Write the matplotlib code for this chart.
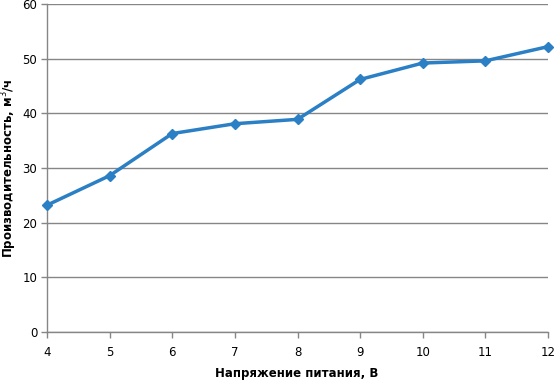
import matplotlib
matplotlib.use("Agg")
import matplotlib.pyplot as plt

voltage = [4, 5, 6, 7, 8, 9, 10, 11, 12]
productivity = [23.2, 28.6, 36.3, 38.1, 38.9, 46.2, 49.2, 49.6, 52.2]
y_ticks = [0, 10, 20, 30, 40, 50, 60]

plt.rcParams['font.family'] = ['DejaVu Sans']

fig = plt.figure(figsize=(5.55, 3.8), dpi=100)
ax = fig.add_axes([47/555, 1 - 332/380, (548-47)/555, (332-4)/380])

ax.plot(voltage, productivity, color='#2a7fc5', linewidth=2.5, marker='D',
        markersize=5.5, markeredgecolor='#2a7fc5', zorder=3, clip_on=False)

ax.set_xlim(4, 12)
ax.set_ylim(0, 60)
ax.set_xticks(voltage)
ax.set_yticks(y_ticks)
ax.grid(axis='y', color='#868686', linewidth=1)
ax.set_axisbelow(True)
for s in ['top', 'right']:
    ax.spines[s].set_visible(False)
for s in ['left', 'bottom']:
    ax.spines[s].set_color('#868686')
    ax.spines[s].set_linewidth(1)
ax.tick_params(axis='both', colors='#868686', labelcolor='black', labelsize=8.5,
               length=4, width=1, direction='out')
ax.tick_params(axis='x', pad=6)
ax.tick_params(axis='y', pad=3)

fig.text(297/555, 1 - 373/380, 'Напряжение питания, В', fontsize=8.5,
         fontweight='bold', ha='center', va='center')
fig.text(9/555, 1 - 168/380, 'Производительность, м$^{3}$/ч', fontsize=8.5,
         fontweight='bold', ha='center', va='center', rotation=90)

fig.savefig('out.png', dpi=100)
